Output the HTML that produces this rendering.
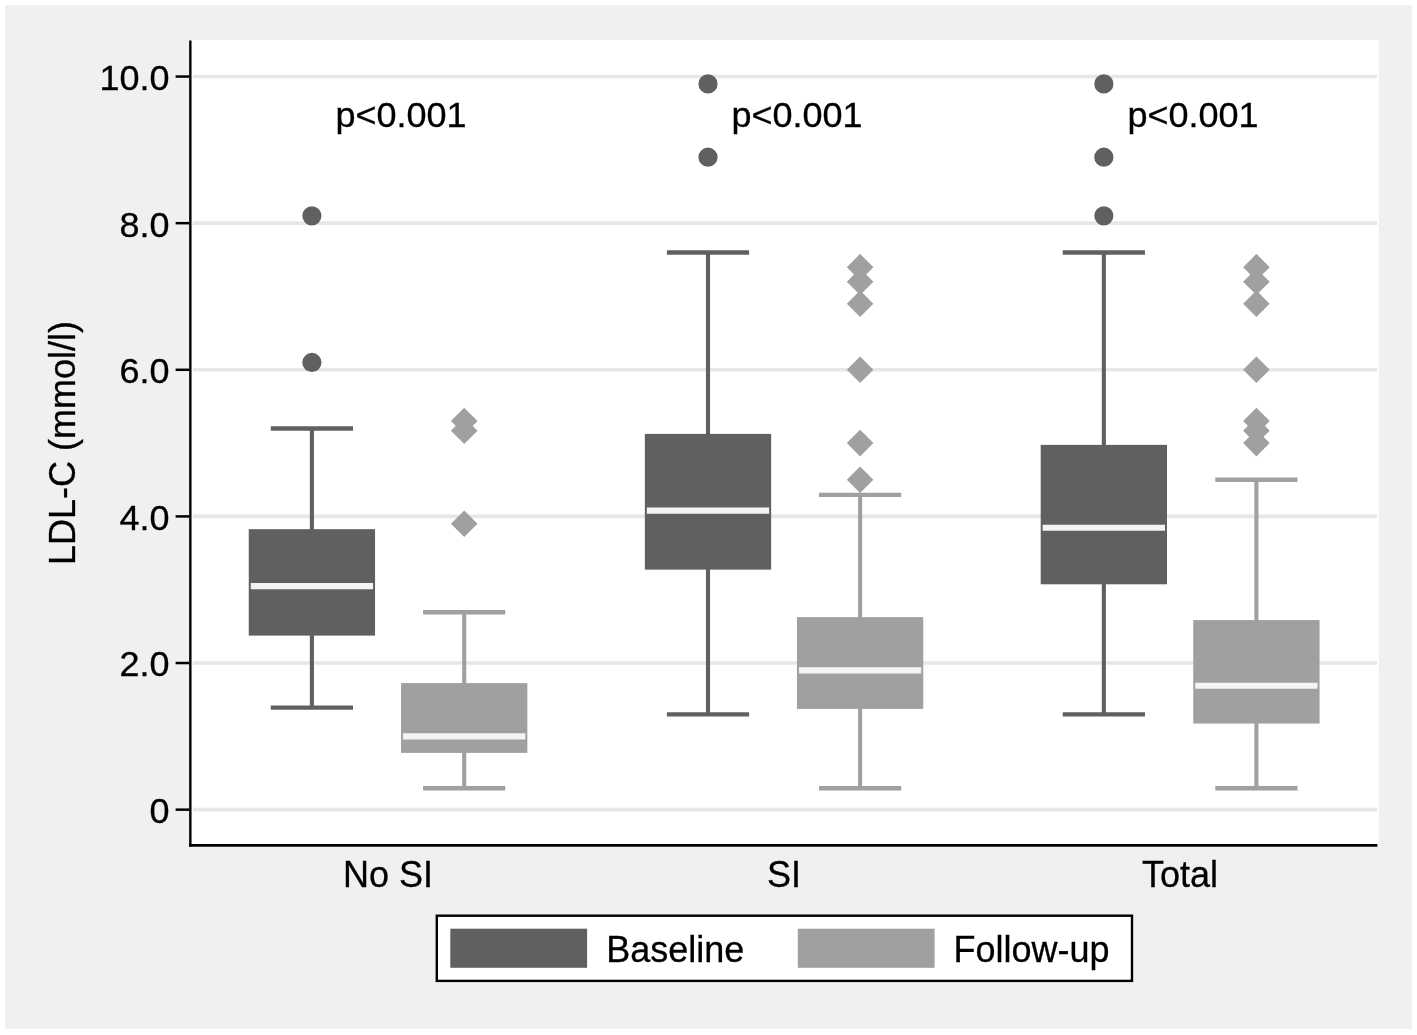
<!DOCTYPE html>
<html lang="en"><head><meta charset="utf-8"><title>LDL-C box plot</title>
<style>html,body{margin:0;padding:0;background:#fff}body{width:1417px;height:1035px;overflow:hidden}</style></head>
<body>
<svg width="1417" height="1035" viewBox="0 0 1417 1035" style="display:block">
<rect x="0" y="0" width="1417" height="1035" fill="#ffffff"/>
<rect x="5.1" y="5.1" width="1406.9" height="1023.8" fill="#f0f0f0"/>
<rect x="190.3" y="39.7" width="1188.4" height="805.7" fill="#ffffff"/>
<line x1="192.8" x2="1377.3" y1="809.65" y2="809.65" stroke="#e7e7e7" stroke-width="3.6"/>
<line x1="192.8" x2="1377.3" y1="663.03" y2="663.03" stroke="#e7e7e7" stroke-width="3.6"/>
<line x1="192.8" x2="1377.3" y1="516.41" y2="516.41" stroke="#e7e7e7" stroke-width="3.6"/>
<line x1="192.8" x2="1377.3" y1="369.79" y2="369.79" stroke="#e7e7e7" stroke-width="3.6"/>
<line x1="192.8" x2="1377.3" y1="223.17" y2="223.17" stroke="#e7e7e7" stroke-width="3.6"/>
<line x1="192.8" x2="1377.3" y1="76.55" y2="76.55" stroke="#e7e7e7" stroke-width="3.6"/>
<line x1="311.9" x2="311.9" y1="428.44" y2="707.60" stroke="#606060" stroke-width="4.1"/>
<line x1="270.80" x2="353.00" y1="428.44" y2="428.44" stroke="#606060" stroke-width="4.4"/>
<line x1="270.80" x2="353.00" y1="707.60" y2="707.60" stroke="#606060" stroke-width="4.4"/>
<rect x="248.75" y="529.17" width="126.30" height="106.43" fill="#606060"/>
<line x1="250.75" x2="373.05" y1="586.05" y2="586.05" stroke="#f4f4f4" stroke-width="6.2"/>
<circle cx="311.9" cy="362.46" r="9.6" fill="#606060"/>
<circle cx="311.9" cy="215.84" r="9.6" fill="#606060"/>
<line x1="464.2" x2="464.2" y1="612.30" y2="788.24" stroke="#a0a0a0" stroke-width="4.1"/>
<line x1="423.10" x2="505.30" y1="612.30" y2="612.30" stroke="#a0a0a0" stroke-width="4.4"/>
<line x1="423.10" x2="505.30" y1="788.24" y2="788.24" stroke="#a0a0a0" stroke-width="4.4"/>
<rect x="401.05" y="683.12" width="126.30" height="69.78" fill="#a0a0a0"/>
<line x1="403.05" x2="525.35" y1="736.34" y2="736.34" stroke="#f4f4f4" stroke-width="6.2"/>
<path d="M464.2 510.44L477.50 523.74L464.2 537.04L450.90 523.74Z" fill="#a0a0a0"/>
<path d="M464.2 417.34L477.50 430.64L464.2 443.94L450.90 430.64Z" fill="#a0a0a0"/>
<path d="M464.2 407.81L477.50 421.11L464.2 434.41L450.90 421.11Z" fill="#a0a0a0"/>
<line x1="708.0" x2="708.0" y1="252.49" y2="714.35" stroke="#606060" stroke-width="4.1"/>
<line x1="666.90" x2="749.10" y1="252.49" y2="252.49" stroke="#606060" stroke-width="4.4"/>
<line x1="666.90" x2="749.10" y1="714.35" y2="714.35" stroke="#606060" stroke-width="4.4"/>
<rect x="644.85" y="433.87" width="126.30" height="135.76" fill="#606060"/>
<line x1="646.85" x2="769.15" y1="510.55" y2="510.55" stroke="#f4f4f4" stroke-width="6.2"/>
<circle cx="708.0" cy="157.19" r="9.6" fill="#606060"/>
<circle cx="708.0" cy="83.88" r="9.6" fill="#606060"/>
<line x1="860.1" x2="860.1" y1="494.86" y2="788.24" stroke="#a0a0a0" stroke-width="4.1"/>
<line x1="819.00" x2="901.20" y1="494.86" y2="494.86" stroke="#a0a0a0" stroke-width="4.4"/>
<line x1="819.00" x2="901.20" y1="788.24" y2="788.24" stroke="#a0a0a0" stroke-width="4.4"/>
<rect x="796.95" y="617.14" width="126.30" height="91.77" fill="#a0a0a0"/>
<line x1="798.95" x2="921.25" y1="670.36" y2="670.36" stroke="#f4f4f4" stroke-width="6.2"/>
<path d="M860.1 466.45L873.40 479.75L860.1 493.06L846.80 479.75Z" fill="#a0a0a0"/>
<path d="M860.1 429.80L873.40 443.10L860.1 456.40L846.80 443.10Z" fill="#a0a0a0"/>
<path d="M860.1 356.49L873.40 369.79L860.1 383.09L846.80 369.79Z" fill="#a0a0a0"/>
<path d="M860.1 290.51L873.40 303.81L860.1 317.11L846.80 303.81Z" fill="#a0a0a0"/>
<path d="M860.1 268.52L873.40 281.82L860.1 295.12L846.80 281.82Z" fill="#a0a0a0"/>
<path d="M860.1 253.86L873.40 267.16L860.1 280.46L846.80 267.16Z" fill="#a0a0a0"/>
<line x1="1103.85" x2="1103.85" y1="252.49" y2="714.35" stroke="#606060" stroke-width="4.1"/>
<line x1="1062.75" x2="1144.95" y1="252.49" y2="252.49" stroke="#606060" stroke-width="4.4"/>
<line x1="1062.75" x2="1144.95" y1="714.35" y2="714.35" stroke="#606060" stroke-width="4.4"/>
<rect x="1040.70" y="444.87" width="126.30" height="139.42" fill="#606060"/>
<line x1="1042.70" x2="1165.00" y1="527.77" y2="527.77" stroke="#f4f4f4" stroke-width="6.2"/>
<circle cx="1103.85" cy="215.84" r="9.6" fill="#606060"/>
<circle cx="1103.85" cy="157.19" r="9.6" fill="#606060"/>
<circle cx="1103.85" cy="83.88" r="9.6" fill="#606060"/>
<line x1="1256.4" x2="1256.4" y1="479.75" y2="788.24" stroke="#a0a0a0" stroke-width="4.1"/>
<line x1="1215.30" x2="1297.50" y1="479.75" y2="479.75" stroke="#a0a0a0" stroke-width="4.4"/>
<line x1="1215.30" x2="1297.50" y1="788.24" y2="788.24" stroke="#a0a0a0" stroke-width="4.4"/>
<rect x="1193.25" y="620.08" width="126.30" height="103.50" fill="#a0a0a0"/>
<line x1="1195.25" x2="1317.55" y1="685.76" y2="685.76" stroke="#f4f4f4" stroke-width="6.2"/>
<path d="M1256.4 429.80L1269.70 443.10L1256.4 456.40L1243.10 443.10Z" fill="#a0a0a0"/>
<path d="M1256.4 417.34L1269.70 430.64L1256.4 443.94L1243.10 430.64Z" fill="#a0a0a0"/>
<path d="M1256.4 407.81L1269.70 421.11L1256.4 434.41L1243.10 421.11Z" fill="#a0a0a0"/>
<path d="M1256.4 356.49L1269.70 369.79L1256.4 383.09L1243.10 369.79Z" fill="#a0a0a0"/>
<path d="M1256.4 290.51L1269.70 303.81L1256.4 317.11L1243.10 303.81Z" fill="#a0a0a0"/>
<path d="M1256.4 268.52L1269.70 281.82L1256.4 295.12L1243.10 281.82Z" fill="#a0a0a0"/>
<path d="M1256.4 253.86L1269.70 267.16L1256.4 280.46L1243.10 267.16Z" fill="#a0a0a0"/>
<line x1="190.35" x2="190.35" y1="40.6" y2="846.8" stroke="#000" stroke-width="2.4"/>
<line x1="189.05" x2="1377.4" y1="845.45" y2="845.45" stroke="#000" stroke-width="2.7"/>
<line x1="175.6" x2="189.5" y1="809.65" y2="809.65" stroke="#000" stroke-width="2.5"/>
<text transform="translate(169.6,823.00) scale(1,0.98)" text-anchor="end" font-family="Liberation Sans, Arial, Helvetica, sans-serif" font-size="36" fill="#000" stroke="#000" stroke-width="0.3">0</text>
<line x1="175.6" x2="189.5" y1="663.03" y2="663.03" stroke="#000" stroke-width="2.5"/>
<text transform="translate(169.6,676.38) scale(1,0.98)" text-anchor="end" font-family="Liberation Sans, Arial, Helvetica, sans-serif" font-size="36" fill="#000" stroke="#000" stroke-width="0.3">2.0</text>
<line x1="175.6" x2="189.5" y1="516.41" y2="516.41" stroke="#000" stroke-width="2.5"/>
<text transform="translate(169.6,529.76) scale(1,0.98)" text-anchor="end" font-family="Liberation Sans, Arial, Helvetica, sans-serif" font-size="36" fill="#000" stroke="#000" stroke-width="0.3">4.0</text>
<line x1="175.6" x2="189.5" y1="369.79" y2="369.79" stroke="#000" stroke-width="2.5"/>
<text transform="translate(169.6,383.14) scale(1,0.98)" text-anchor="end" font-family="Liberation Sans, Arial, Helvetica, sans-serif" font-size="36" fill="#000" stroke="#000" stroke-width="0.3">6.0</text>
<line x1="175.6" x2="189.5" y1="223.17" y2="223.17" stroke="#000" stroke-width="2.5"/>
<text transform="translate(169.6,236.52) scale(1,0.98)" text-anchor="end" font-family="Liberation Sans, Arial, Helvetica, sans-serif" font-size="36" fill="#000" stroke="#000" stroke-width="0.3">8.0</text>
<line x1="175.6" x2="189.5" y1="76.55" y2="76.55" stroke="#000" stroke-width="2.5"/>
<text transform="translate(169.6,89.90) scale(1,0.98)" text-anchor="end" font-family="Liberation Sans, Arial, Helvetica, sans-serif" font-size="36" fill="#000" stroke="#000" stroke-width="0.3">10.0</text>
<text transform="translate(335.4,126.7) scale(1,0.995)" font-family="Liberation Sans, Arial, Helvetica, sans-serif" font-size="36" fill="#000" stroke="#000" stroke-width="0.3">p&lt;0.001</text>
<text transform="translate(731.4,126.7) scale(1,0.995)" font-family="Liberation Sans, Arial, Helvetica, sans-serif" font-size="36" fill="#000" stroke="#000" stroke-width="0.3">p&lt;0.001</text>
<text transform="translate(1127.4,126.7) scale(1,0.995)" font-family="Liberation Sans, Arial, Helvetica, sans-serif" font-size="36" fill="#000" stroke="#000" stroke-width="0.3">p&lt;0.001</text>
<text x="388.1" y="886.8" text-anchor="middle" font-family="Liberation Sans, Arial, Helvetica, sans-serif" font-size="36" fill="#000" stroke="#000" stroke-width="0.3">No SI</text>
<text x="784.1" y="886.8" text-anchor="middle" font-family="Liberation Sans, Arial, Helvetica, sans-serif" font-size="36" fill="#000" stroke="#000" stroke-width="0.3">SI</text>
<text x="1180.1" y="886.8" text-anchor="middle" font-family="Liberation Sans, Arial, Helvetica, sans-serif" font-size="36" fill="#000" stroke="#000" stroke-width="0.3">Total</text>
<text transform="translate(74.7,443) rotate(-90) scale(1,1.03)" text-anchor="middle" font-family="Liberation Sans, Arial, Helvetica, sans-serif" font-size="36" fill="#000" stroke="#000" stroke-width="0.3">LDL-C (mmol/l)</text>
<rect x="436.8" y="915.7" width="695.2" height="65.2" fill="#fff" stroke="#000" stroke-width="2.4"/>
<rect x="450.3" y="928.7" width="136.8" height="39.1" fill="#606060"/>
<rect x="797.8" y="928.7" width="136.8" height="39.1" fill="#a0a0a0"/>
<text x="606.2" y="961.7" font-family="Liberation Sans, Arial, Helvetica, sans-serif" font-size="36" fill="#000" stroke="#000" stroke-width="0.3">Baseline</text>
<text x="953.4" y="961.7" font-family="Liberation Sans, Arial, Helvetica, sans-serif" font-size="36" fill="#000" stroke="#000" stroke-width="0.3">Follow-up</text>
</svg>
</body></html>
